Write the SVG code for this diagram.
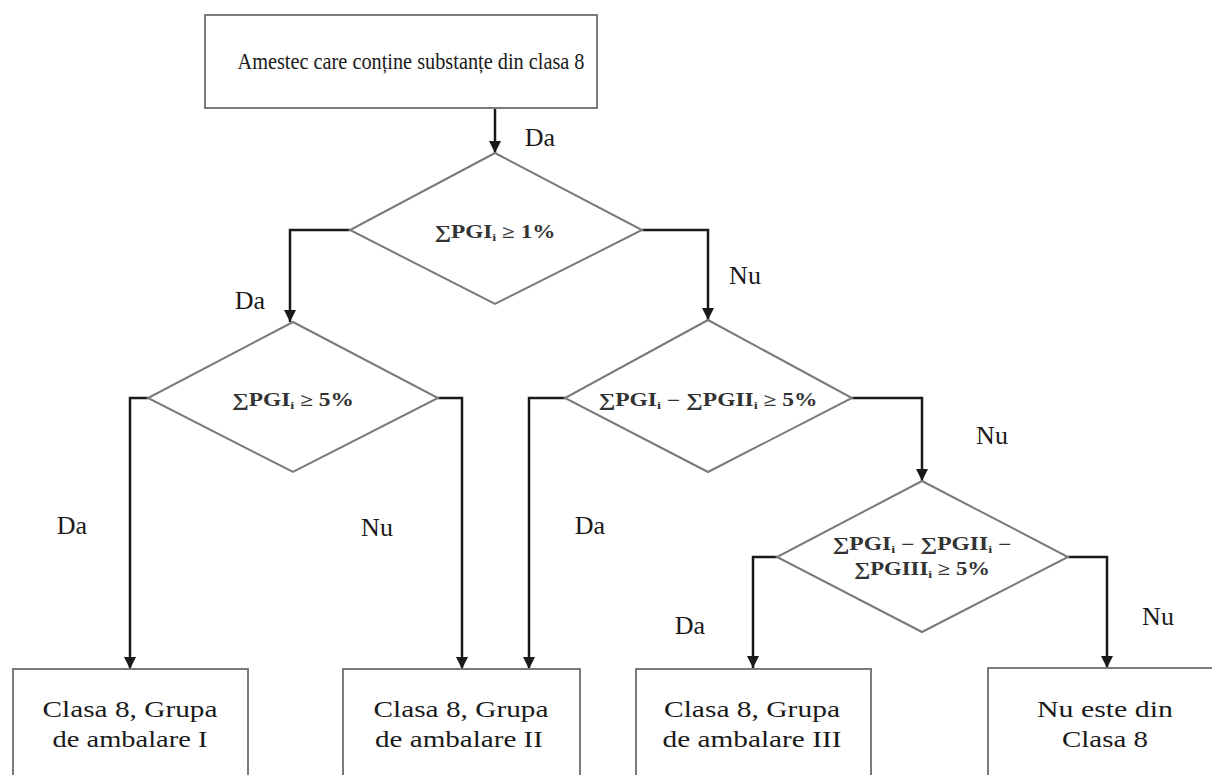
<svg xmlns="http://www.w3.org/2000/svg" width="1212" height="775" viewBox="0 0 1212 775">
<style>
.box{fill:#fff;stroke:#7a7a7a;stroke-width:2}
.dia{fill:#fff;stroke:#7a7a7a;stroke-width:2}
.con{fill:none;stroke:#1a1a1a;stroke-width:2.5}
text{font-family:"Liberation Serif","DejaVu Serif",serif}
.t{font-size:24px;fill:#1a1a1a;text-anchor:middle}
.b{font-size:23px;fill:#1a1a1a;text-anchor:middle}
.lbl{font-size:26px;fill:#1a1a1a;text-anchor:middle}
.f{font-size:18px;font-weight:bold;fill:#333;text-anchor:middle}
.s{text-decoration:underline}
</style>
<defs>
<marker id="ah" markerUnits="userSpaceOnUse" markerWidth="12" markerHeight="12" refX="12" refY="6" orient="auto">
<path d="M0,0 L12,6 L0,12 z" fill="#1a1a1a"/>
</marker>
</defs>
<rect width="1212" height="775" fill="#fff"/>
<g id="connectors">
<path class="con" d="M495,108 V153" marker-end="url(#ah)"/>
<path class="con" d="M350,230 H290 V322" marker-end="url(#ah)"/>
<path class="con" d="M642,230 H708 V320" marker-end="url(#ah)"/>
<path class="con" d="M148,398 H130 V669" marker-end="url(#ah)"/>
<path class="con" d="M438,398 H462 V669" marker-end="url(#ah)"/>
<path class="con" d="M565,398 H529 V669" marker-end="url(#ah)"/>
<path class="con" d="M852,398 H922 V481" marker-end="url(#ah)"/>
<path class="con" d="M777,557 H753 V668" marker-end="url(#ah)"/>
<path class="con" d="M1068,557 H1107 V668" marker-end="url(#ah)"/>
<text class="lbl" x="540" y="146">Da</text>
<text class="lbl" x="250" y="309">Da</text>
<text class="lbl" x="745" y="284">Nu</text>
<text class="lbl" x="72" y="534">Da</text>
<text class="lbl" x="377" y="536">Nu</text>
<text class="lbl" x="590" y="534">Da</text>
<text class="lbl" x="992" y="444">Nu</text>
<text class="lbl" x="690" y="634">Da</text>
<text class="lbl" x="1158" y="625">Nu</text>
</g>
<g id="start">
<rect class="box" x="205" y="15" width="392" height="93"/>
<text class="t" x="411" y="69" textLength="347" lengthAdjust="spacingAndGlyphs">Amestec care conține substanțe din clasa 8</text>
</g>
<g id="d1">
<polygon class="dia" points="495,153 642,230 495,304 350,230"/>
<text class="f" x="495" y="238" textLength="121" lengthAdjust="spacingAndGlyphs"><tspan class="s">∑</tspan>PGI<tspan font-size="11" dy="3">i</tspan><tspan dy="-3"> ≥ 1%</tspan></text>
</g>
<g id="d2">
<polygon class="dia" points="293,322 438,398 293,472 148,398"/>
<text class="f" x="293" y="406" textLength="122" lengthAdjust="spacingAndGlyphs"><tspan class="s">∑</tspan>PGI<tspan font-size="11" dy="3">i</tspan><tspan dy="-3"> ≥ 5%</tspan></text>
</g>
<g id="d3">
<polygon class="dia" points="708,320 852,398 708,472 565,398"/>
<text class="f" x="708" y="406" textLength="219" lengthAdjust="spacingAndGlyphs"><tspan class="s">∑</tspan>PGI<tspan font-size="11" dy="3">i</tspan><tspan dy="-3"> − </tspan><tspan class="s">∑</tspan>PGII<tspan font-size="11" dy="3">i</tspan><tspan dy="-3"> ≥ 5%</tspan></text>
</g>
<g id="d4">
<polygon class="dia" points="922,481 1068,557 922,632 777,557"/>
<text class="f" x="922" y="550" textLength="179" lengthAdjust="spacingAndGlyphs"><tspan class="s">∑</tspan>PGI<tspan font-size="11" dy="3">i</tspan><tspan dy="-3"> − </tspan><tspan class="s">∑</tspan>PGII<tspan font-size="11" dy="3">i</tspan><tspan dy="-3"> −</tspan></text>
<text class="f" x="922" y="575" textLength="136" lengthAdjust="spacingAndGlyphs"><tspan class="s">∑</tspan>PGIII<tspan font-size="11" dy="3">i</tspan><tspan dy="-3"> ≥ 5%</tspan></text>
</g>
<g id="b1">
<rect class="box" x="13" y="669" width="235" height="120"/>
<text class="b" x="130" y="717" textLength="175" lengthAdjust="spacingAndGlyphs">Clasa 8, Grupa</text>
<text class="b" x="130" y="747" textLength="155" lengthAdjust="spacingAndGlyphs">de ambalare I</text>
</g>
<g id="b2">
<rect class="box" x="343" y="669" width="237" height="120"/>
<text class="b" x="461" y="717" textLength="175" lengthAdjust="spacingAndGlyphs">Clasa 8, Grupa</text>
<text class="b" x="459" y="747" textLength="168" lengthAdjust="spacingAndGlyphs">de ambalare II</text>
</g>
<g id="b3">
<rect class="box" x="636" y="669" width="235" height="120"/>
<text class="b" x="752" y="717" textLength="176" lengthAdjust="spacingAndGlyphs">Clasa 8, Grupa</text>
<text class="b" x="752" y="747" textLength="179" lengthAdjust="spacingAndGlyphs">de ambalare III</text>
</g>
<g id="b4">
<rect class="box" x="988" y="668" width="240" height="120"/>
<text class="b" x="1105" y="717" textLength="136" lengthAdjust="spacingAndGlyphs">Nu este din</text>
<text class="b" x="1105" y="747" textLength="86" lengthAdjust="spacingAndGlyphs">Clasa 8</text>
</g>
</svg>
